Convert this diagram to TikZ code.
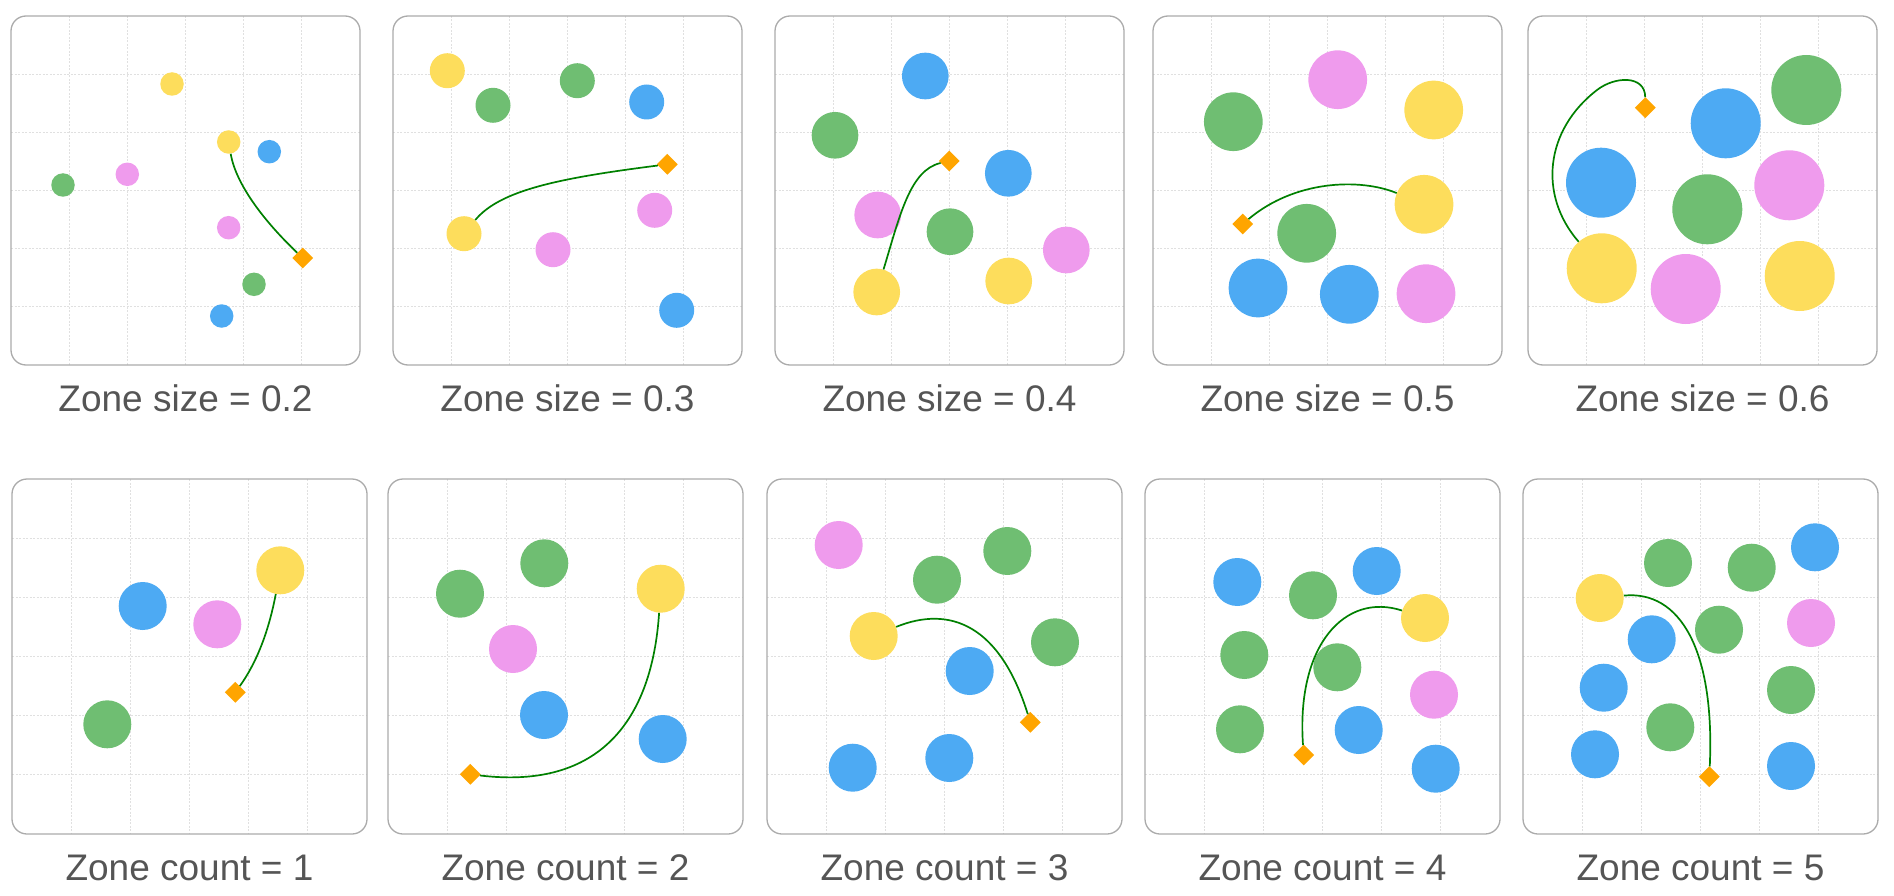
\documentclass[tikz,border=0pt]{standalone}
\usepackage{fontspec}
\setmainfont{Liberation Sans}
\usetikzlibrary{shapes.geometric}

\definecolor{zyellow}{HTML}{FDDD5C}
\definecolor{zgreen}{HTML}{6FBE72}
\definecolor{zblue}{HTML}{4DAAF3}
\definecolor{zpink}{HTML}{EF9BED}
\definecolor{zorange}{HTML}{FFA500}
\definecolor{zroute}{HTML}{008000}
\definecolor{zframe}{HTML}{ABABAB}
\definecolor{zgrid}{HTML}{E0E0E0}
\definecolor{zlabel}{HTML}{555555}

\begin{document}
\begin{tikzpicture}[x=1pt,y=-1pt,
    ylw/.style={circle,inner sep=0pt,minimum size=#1,fill=zyellow},
    grn/.style={circle,inner sep=0pt,minimum size=#1,fill=zgreen},
    blu/.style={circle,inner sep=0pt,minimum size=#1,fill=zblue},
    pnk/.style={circle,inner sep=0pt,minimum size=#1,fill=zpink},
    goal/.style={diamond,inner sep=0pt,minimum size=21pt,fill=zorange},
    route/.style={draw=zroute,line width=1.7pt},
    gridline/.style={zgrid,line width=0.9pt,dash pattern=on 2pt off 1.5pt},
    panelbox/.style={draw=zframe,line width=1.3pt,rounded corners=15pt},
    zonelabel/.style={anchor=base,text=zlabel,font=\fontsize{37}{44}\selectfont}]

    \useasboundingbox (0,0) rectangle (1894,896);

    % frames, grids and labels
    \foreach \fx/\fy/\fs/\ftxt [count=\n] in {
        11/16/349/{Zone size = 0.2}, 393/16/349/{Zone size = 0.3},
        775/16/349/{Zone size = 0.4}, 1153/16/349/{Zone size = 0.5},
        1528/16/349/{Zone size = 0.6},
        12/479/355/{Zone count = 1}, 388/479/355/{Zone count = 2},
        767/479/355/{Zone count = 3}, 1145/479/355/{Zone count = 4},
        1523/479/355/{Zone count = 5}}
    {
        \foreach \k in {1,...,5} {
            \draw[gridline] ({\fx+\k*\fs/6},\fy) -- ({\fx+\k*\fs/6},{\fy+\fs});
            \draw[gridline] (\fx,{\fy+\k*\fs/6}) -- ({\fx+\fs},{\fy+\k*\fs/6});
        }
        \draw[panelbox] (\fx,\fy) rectangle ({\fx+\fs},{\fy+\fs});
        \node[zonelabel] (cap\n) at ({\fx+\fs/2},{\fy+\fs+46}) {\ftxt};
    }

    % zone size = 0.2
    \node[ylw=23.5pt] (a1) at (172,84) {};
    \node[blu=23.5pt] (a2) at (269.3,151.7) {};
    \node[grn=23.5pt] (a3) at (63,185) {};
    \node[pnk=23.5pt] (a4) at (127.3,174.3) {};
    \node[pnk=23.5pt] (a5) at (228.7,227.7) {};
    \node[grn=23.5pt] (a6) at (254,284.3) {};
    \node[blu=23.5pt] (a7) at (221.7,316) {};
    \node[ylw=23.5pt] (st1) at (228.7,142) {};
    \node[goal] (gl1) at (302.7,258) {};
    \draw[route] (st1) .. controls (236,185) and (265,222) .. (gl1);

    % zone size = 0.3
    \node[ylw=35pt] (b1) at (447.3,70.7) {};
    \node[grn=35pt] (b2) at (493,105.3) {};
    \node[grn=35pt] (b3) at (577.3,80.7) {};
    \node[blu=35pt] (b4) at (646.7,102) {};
    \node[pnk=35pt] (b5) at (654.7,210.3) {};
    \node[pnk=35pt] (b6) at (553,249.7) {};
    \node[blu=35pt] (b7) at (676.7,310.3) {};
    \node[ylw=35pt] (st2) at (464,233.7) {};
    \node[goal] (gl2) at (667.3,164.3) {};
    \draw[route] (st2) .. controls (500,190) and (560,178) .. (gl2);

    % zone size = 0.4
    \node[blu=46.7pt] (c1) at (925.3,76) {};
    \node[grn=46.7pt] (c2) at (835,135.3) {};
    \node[blu=46.7pt] (c3) at (1008.3,173.3) {};
    \node[pnk=46.7pt] (c4) at (877.7,215) {};
    \node[grn=46.7pt] (c5) at (950,231.7) {};
    \node[pnk=46.7pt] (c6) at (1066.3,250) {};
    \node[ylw=46.7pt] (c7) at (1008.7,281) {};
    \node[ylw=46.7pt] (st3) at (876.7,292) {};
    \node[goal] (gl3) at (949.3,161) {};
    \draw[route] (st3) .. controls (900,215) and (910,170) .. (gl3);

    % zone size = 0.5
    \node[pnk=58.7pt] (d1) at (1337.7,79.7) {};
    \node[grn=58.7pt] (d2) at (1233.3,121.7) {};
    \node[ylw=58.7pt] (d3) at (1433.7,110) {};
    \node[grn=58.7pt] (d4) at (1306.7,233.3) {};
    \node[blu=58.7pt] (d5) at (1258,288) {};
    \node[blu=58.7pt] (d6) at (1349.3,294.3) {};
    \node[pnk=58.7pt] (d7) at (1426,293.7) {};
    \node[ylw=58.7pt] (st4) at (1424,204.3) {};
    \node[goal] (gl4) at (1242.7,224) {};
    \draw[route] (st4) .. controls (1360,178) and (1295,180) .. (gl4);

    % zone size = 0.6
    \node[grn=70pt] (e1) at (1806.3,90) {};
    \node[blu=70pt] (e2) at (1725.7,123.3) {};
    \node[blu=70pt] (e3) at (1601,182.7) {};
    \node[pnk=70pt] (e4) at (1789.3,185.3) {};
    \node[grn=70pt] (e5) at (1707.3,209.3) {};
    \node[pnk=70pt] (e6) at (1685.7,289) {};
    \node[ylw=70pt] (e7) at (1799.7,276) {};
    \node[ylw=70pt] (st5) at (1601.7,268.3) {};
    \node[goal] (gl5) at (1645.3,107.7) {};
    \coordinate (bend5) at (1597,90);
    \draw[route] (st5) .. controls (1538,195) and (1545,130) .. (bend5)
        .. controls (1615,76) and (1645,75) .. (gl5);

    % zone count = 1
    \node[blu=48pt] (f1) at (142.7,606) {};
    \node[pnk=48pt] (f2) at (217.3,624.3) {};
    \node[grn=48pt] (f3) at (107.3,724.3) {};
    \node[ylw=48pt] (st6) at (280.3,570.3) {};
    \node[goal] (gl6) at (235.3,692.3) {};
    \draw[route] (st6) .. controls (268,635) and (255,665) .. (gl6);

    % zone count = 2
    \node[grn=48pt] (g1) at (460,593.7) {};
    \node[grn=48pt] (g2) at (544.3,563.3) {};
    \node[pnk=48pt] (g3) at (513,649) {};
    \node[blu=48pt] (g4) at (544,715) {};
    \node[blu=48pt] (g5) at (662.7,739) {};
    \node[ylw=48pt] (st7) at (660.7,588.7) {};
    \node[goal] (gl7) at (470.3,774.3) {};
    \draw[route] (st7) .. controls (652,720) and (600,790) .. (gl7);

    % zone count = 3
    \node[pnk=48pt] (h1) at (838.7,545) {};
    \node[grn=48pt] (h2) at (1007.3,551) {};
    \node[grn=48pt] (h3) at (937,579.7) {};
    \node[grn=48pt] (h4) at (1055,642.3) {};
    \node[blu=48pt] (h5) at (969.7,671) {};
    \node[blu=48pt] (h6) at (852.7,767.7) {};
    \node[blu=48pt] (h7) at (949.3,758) {};
    \node[ylw=48pt] (st8) at (873.7,636) {};
    \node[goal] (gl8) at (1030.3,722.3) {};
    \draw[route] (st8) .. controls (950,605) and (1000,625) .. (gl8);

    % zone count = 4
    \node[blu=48pt] (i1) at (1237.3,582) {};
    \node[grn=48pt] (i2) at (1313,595.3) {};
    \node[blu=48pt] (i3) at (1376.7,571) {};
    \node[grn=48pt] (i4) at (1244.3,655) {};
    \node[grn=48pt] (i5) at (1337.3,667.3) {};
    \node[pnk=48pt] (i6) at (1434,694.7) {};
    \node[grn=48pt] (i7) at (1240,729.3) {};
    \node[blu=48pt] (i8) at (1358.7,730) {};
    \node[blu=48pt] (i9) at (1435.7,768.7) {};
    \node[ylw=48pt] (st9) at (1425,618) {};
    \node[goal] (gl9) at (1303.7,755) {};
    \draw[route] (st9) .. controls (1345,592) and (1296,645) .. (gl9);

    % zone count = 5
    \node[blu=48pt] (j1) at (1815,547.3) {};
    \node[grn=48pt] (j2) at (1668,563) {};
    \node[grn=48pt] (j3) at (1751.7,567.7) {};
    \node[blu=48pt] (j4) at (1651.7,639.3) {};
    \node[grn=48pt] (j5) at (1719,629.7) {};
    \node[pnk=48pt] (j6) at (1811,623) {};
    \node[blu=48pt] (j7) at (1603.7,687.7) {};
    \node[grn=48pt] (j8) at (1791,690) {};
    \node[grn=48pt] (j9) at (1670.3,727.3) {};
    \node[blu=48pt] (j10) at (1595,754.3) {};
    \node[blu=48pt] (j11) at (1791,766) {};
    \node[ylw=48pt] (st10) at (1599.7,598) {};
    \node[goal] (gl10) at (1709.3,776.7) {};
    \draw[route] (st10) .. controls (1680,590) and (1715,650) .. (gl10);
\end{tikzpicture}
\end{document}
